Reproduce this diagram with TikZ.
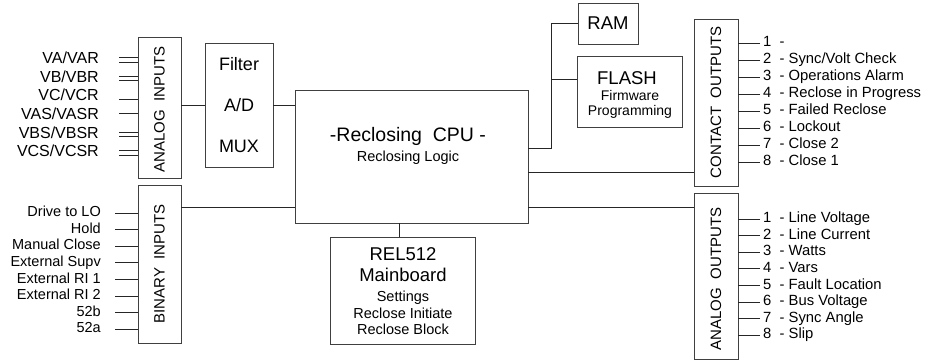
\documentclass[tikz,border=0pt]{standalone}
\usepackage{fontspec}
\setmainfont{Liberation Sans}
\usetikzlibrary{positioning,calc}

\begin{document}
\begin{tikzpicture}[
    x=1pt, y=-1pt,
    box/.style={rectangle, draw=black!75, line width=0.9pt, inner sep=0pt},
    wire/.style={draw=black!85, line width=0.9pt},
    big/.style={font=\fontsize{18.5}{21}\selectfont},
    mid/.style={font=\fontsize{14.5}{16.5}\selectfont},
    tag/.style={font=\fontsize{15}{17}\selectfont, rotate=90, inner sep=0pt},
    inlabel/.style={font=\fontsize{14.5}{16}\selectfont, anchor=east, inner sep=0pt, text height=10.5pt, text depth=3pt},
    outlabel/.style={font=\fontsize{14.8}{16}\selectfont, anchor=west, inner sep=0pt, text height=10.5pt, text depth=3pt}
]

\useasboundingbox (0,0) rectangle (933,360);

% Main components
\node[box, minimum width=43pt, minimum height=141pt] (ain) at (159.5,107.5) {};
\node[tag] (aintag) at ([yshift=-2pt]ain) {ANALOG\ \ INPUTS};
\node[box, minimum width=43pt, minimum height=158pt] (bin) at (159.5,264) {};
\node[tag] (bintag) at (bin) {BINARY\ \ INPUTS};
\node[box, minimum width=68pt, minimum height=124pt, font=\fontsize{18}{41}\selectfont, align=center] (filter) at (239,105) {Filter\\A/D\\MUX};

\node[box, minimum width=233pt, minimum height=133pt] (cpu) at (411.5,156.5) {};
\node[font=\fontsize{19.5}{22}\selectfont] (cputitle) at (408,136) {-Reclosing\ \ CPU -};
\node[mid] (cpusub) at (408,158) {Reclosing Logic};

\node[box, minimum width=145pt, minimum height=107pt] (rel) at (402.5,290.5) {};
\node[big, align=center] (reltitle) at (403,264.5) {REL512\\Mainboard};
\node[mid, align=center] (relsub) at (403,313) {Settings\\Reclose Initiate\\Reclose Block};

\node[box, big, minimum width=60pt, minimum height=41pt] (ram) at (608,23.5) {RAM};
\node[box, minimum width=105pt, minimum height=71pt] (flash) at (629.5,91.5) {};
\node[big] (flashtitle) at (627,78) {FLASH};
\node[font=\fontsize{14}{15.5}\selectfont, align=center] (flashsub) at (630,104.5) {Firmware\\Programming};

\node[box, minimum width=44pt, minimum height=167pt] (cout) at (716,102.5) {};
\node[tag] (couttag) at (cout) {CONTACT\ \ OUTPUTS};
\node[box, minimum width=44pt, minimum height=166pt] (aout) at (716,276) {};
\node[tag] (aouttag) at ([yshift=-3pt]aout) {ANALOG\ \ OUTPUTS};

% Inputs
\foreach \name [count=\i] in {VA/VAR,VB/VBR,VC/VCR,VAS/VASR,VBS/VBSR,VCS/VCSR} {
  \node[inlabel, font=\fontsize{16}{18}\selectfont] (ai\i) at (99,41.4+18.6*\i) {\name};
  \draw[wire, line width=0.8pt, double, double distance=3.6pt] ([xshift=20pt]ai\i.east) -- (ai\i.east -| ain.west);
}
\foreach \name [count=\i] in {Drive to LO,Hold,Manual Close,External Supv,External RI 1,External RI 2,52b,52a} {
  \node[inlabel] (bi\i) at (101,196.4+16.6*\i) {\name};
  \draw[wire] ([xshift=14pt]bi\i.east) -- (bi\i.east -| bin.west);
}

% Outputs
\foreach \txt [count=\i] in {{},Sync/Volt Check,Operations Alarm,Reclose in Progress,Failed Reclose,Lockout,Close 2,Close 1} {
  \node[outlabel] (co\i) at (763,26+17*\i) {\i\ \ - \txt};
  \draw[wire] ([xshift=-3pt]co\i.west) -- (co\i.west -| cout.east);
}
\foreach \txt [count=\i] in {Line Voltage,Line Current,Watts,Vars,Fault Location,Bus Voltage,Sync Angle,Slip} {
  \node[outlabel] (ao\i) at (763,202.4+16.6*\i) {\i\ \ - \txt};
  \draw[wire] ([xshift=-3pt]ao\i.west) -- (ao\i.west -| aout.east);
}

% Connections to the CPU
\draw[wire] (ain.east |- filter.west) -- (filter.west);
\draw[wire] (filter.east) -- (filter.east -| cpu.west);
\coordinate (binout) at ([yshift=-23pt]bin.north east);
\draw[wire] (binout) -- (binout -| cpu.west);
\coordinate (relin) at ([xshift=-3.5pt]rel.north);
\draw[wire] (relin) -- (relin |- cpu.south);

\coordinate (bus) at ([xshift=23pt, yshift=8.5pt]cpu.east);
\draw[wire] (bus -| cpu.east) -- (bus) |- (ram.west);
\coordinate (flashin) at ([yshift=12.5pt]flash.west);
\draw[wire] (flashin -| bus) -- (flashin);
\coordinate (coutin) at ([yshift=14pt]cout.south west);
\draw[wire] (coutin -| cpu.east) -- (coutin);
\coordinate (aoutin) at ([yshift=-15pt]aout.north west);
\draw[wire] (aoutin -| cpu.east) -- (aoutin);

\end{tikzpicture}
\end{document}
